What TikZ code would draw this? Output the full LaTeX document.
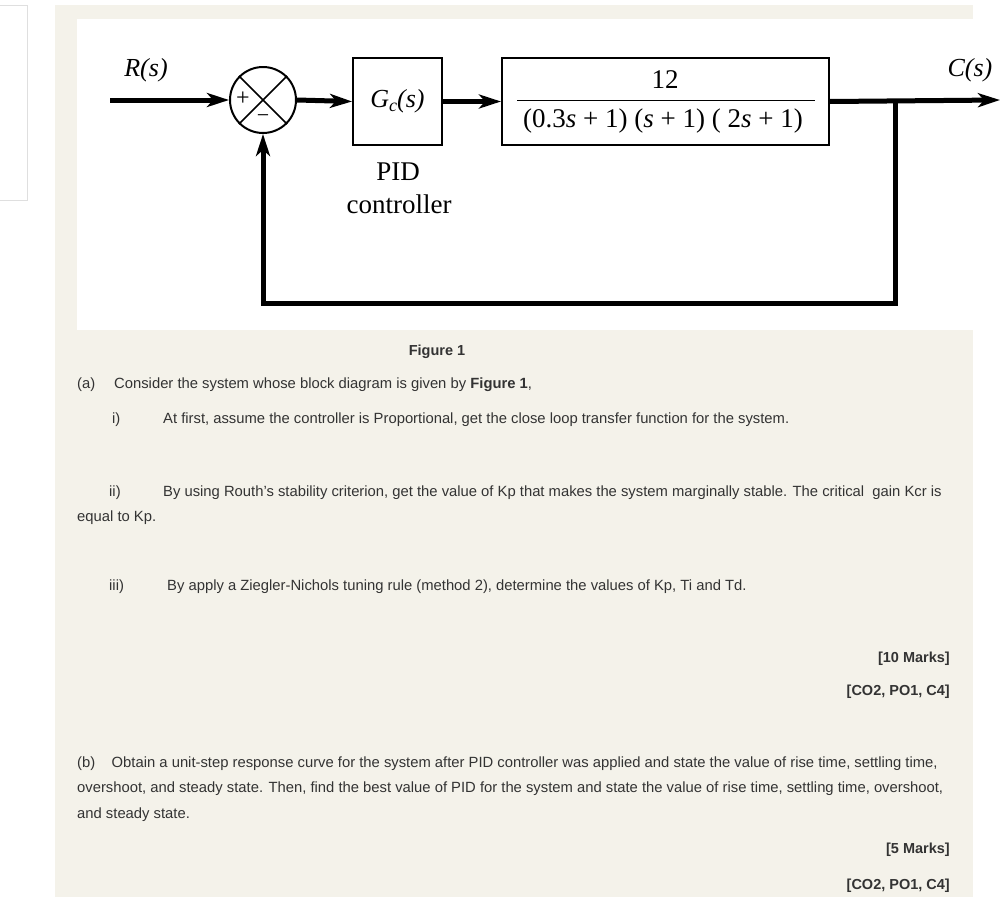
\documentclass[tikz,border=0pt]{standalone}
\usepackage{fontspec}
\setmainfont{Liberation Sans}
\newfontfamily\serifd{Liberation Serif}
\usetikzlibrary{arrows.meta}
\definecolor{beige}{HTML}{F4F2EA}
\definecolor{txt}{HTML}{333333}
\tikzset{
  sig/.style={line width=5pt,-{Stealth[length=22pt,width=14pt,inset=6pt]}},
  fb/.style={line width=5pt},
  blk/.style={draw,line width=2pt,fill=white,inner sep=0pt},
  dtext/.style={font=\serifd\fontsize{27}{29}\selectfont},
  lab/.style={font=\serifd\fontsize{26}{28}\selectfont\itshape},
  body/.style={text=txt,font=\fontsize{14.8}{17}\selectfont,anchor=base west,inner sep=0pt},
  bodyr/.style={text=txt,font=\fontsize{14.5}{17}\selectfont\bfseries,anchor=base east,inner sep=0pt}
}
\begin{document}
\begin{tikzpicture}[x=1pt,y=-1pt]
\useasboundingbox (0,0) rectangle (1002,897);
\fill[white] (0,0) rectangle (1002,897);
\draw[gray!25,line width=1pt] (0,5) -- (27,5) -- (27,200) -- (0,200);
\fill[beige] (55,5) rectangle (973,897);
\fill[white] (77,19) rectangle (973,330);
% diagram
\coordinate (in) at (110,100);
\node[draw,circle,line width=2pt,minimum size=66pt,inner sep=0pt,fill=white] (sum) at (263,100) {};
\draw[line width=1.5pt] (sum.45) -- (sum.225) (sum.135) -- (sum.315);
\node[font=\serifd\fontsize{24}{24}\selectfont] at (243,99) {+};
\node[font=\serifd\fontsize{22}{22}\selectfont] at (263,119) {\char"2212};
\node[blk,minimum width=89pt,minimum height=87pt] (gc) at (397.5,101.5) {};
\node[lab] at (397.5,101) {G\raisebox{-4pt}{\fontsize{18}{18}\selectfont c}(s)};
\node[blk,minimum width=327pt,minimum height=87pt] (gp) at (665.5,101.5) {};
\node[dtext] (num) at (665,80) {12};
\draw[line width=1pt] (517,100) -- (815,100);
\node[dtext] (den) at (663,121) {(0.3\textit{s} + 1) (\textit{s} + 1) ( 2\textit{s} + 1)};
\coordinate (out) at (1000,100);
\coordinate (br) at (895,100);
\coordinate (c1) at (895,303);
\coordinate (c2) at (263,303);
\draw[sig] (in) -- (sum.west);
\draw[sig] (sum.east) -- (gc.west);
\draw[sig] (gc.east) -- (gp.west);
\draw[sig] (gp.east) -- (out);
\draw[fb] (br) -- (c1) -- (c2) -- ++(0,-40);
\draw[sig] (263,270) -- (sum.south);
\node[lab] at (146,70) {R(s)};
\node[lab] at (970,70) {C(s)};
\node[dtext] at (398,172) {PID};
\node[dtext] at (399,204) {controller};
% text
\node[text=txt,font=\fontsize{14.5}{17}\selectfont\bfseries,anchor=base,inner sep=0pt] at (437,355) {Figure 1};
\node[body] at (77,388) {(a)};
\node[body] at (114,388) {Consider the system whose block diagram is given by \textbf{Figure 1},};
\node[body] at (112,423) {i)};
\node[body] at (163,423) {At first, assume the controller is Proportional, get the close loop transfer function for the system.};
\node[body] at (109,496) {ii)};
\node[body] at (163,496) {By using Routh’s stability criterion, get the value of Kp that makes the system marginally stable. The critical\ \ gain Kcr is};
\node[body] at (77,521) {equal to Kp.};
\node[body] at (109,590) {iii)};
\node[body] at (167,590) {By apply a Ziegler-Nichols tuning rule (method 2), determine the values of Kp, Ti and Td.};
\node[bodyr] at (950,662) {[10 Marks]};
\node[bodyr] at (950,695) {[CO2, PO1, C4]};
\node[body] at (77,767) {(b)\ \ \ \ Obtain a unit-step response curve for the system after PID controller was applied and state the value of rise time, settling time,};
\node[body] at (77,792) {overshoot, and steady state. Then, find the best value of PID for the system and state the value of rise time, settling time, overshoot,};
\node[body] at (77,818) {and steady state.};
\node[bodyr] at (950,853) {[5 Marks]};
\node[bodyr] at (950,889) {[CO2, PO1, C4]};
\end{tikzpicture}
\end{document}
